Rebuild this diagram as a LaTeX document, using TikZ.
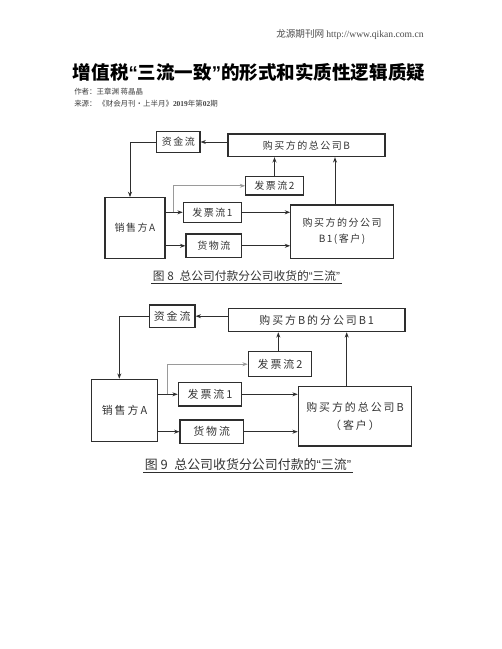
\documentclass[tikz,border=0pt]{standalone}
\usepackage{fontspec}
\setmainfont{Liberation Serif}
\newfontfamily\cjk{Noto Sans CJK SC}
\newfontfamily\lsans{Liberation Sans}
\newfontfamily\cjka[LetterSpace=15]{Noto Sans CJK SC}
\newfontfamily\cjkb[LetterSpace=18]{Noto Sans CJK SC}
\newcommand\oquo{{\lsans “}}
\newcommand\cquo{{\lsans ”}}
\usetikzlibrary{arrows.meta,calc}
\definecolor{lc}{HTML}{2E2E2E}
\definecolor{gc}{HTML}{9A9A9A}
\definecolor{tc}{HTML}{333333}
\begin{document}
\begin{tikzpicture}[x=0.75pt,y=-0.75pt,
  bx/.style 2 args={minimum width=#1*0.75pt, minimum height=#2*0.75pt},
  boxe/.style={draw=lc, line width=0.85pt, inner sep=1pt, text=tc, align=center},
  b8/.style={boxe, font=\cjka\fontsize{7.5}{10}\selectfont},
  b9/.style={boxe, font=\cjkb\fontsize{8.2}{12}\selectfont},
  arr/.style={draw=lc, line width=0.7pt, -{Stealth[length=4pt,width=3pt]}},
  garr/.style={draw=gc, line width=0.6pt, -{Stealth[length=4pt,width=3pt]}},
  capn/.style={inner sep=1pt, text=tc},
  txt/.style={inner sep=0pt, anchor=west}
]
\useasboundingbox (0,0) rectangle (502,649);
\fill[white] (0,0) rectangle (502,649);

% header
\node[txt, text=black!70] (hdr) at (276,34) {\cjk\fontsize{7.2}{9}\selectfont 龙源期刊网 \rmfamily http://www.qikan.com.cn};
\node[inner sep=0pt] (title) at (249,72) {\cjk\bfseries\fontsize{13.9}{16}\selectfont 增值税{\bfseries\oquo}三流一致{\bfseries\cquo}的形式和实质性逻辑质疑};
\node[txt, text=black!75] (au) at (74,92) {\cjk\fontsize{5.6}{7}\selectfont 作者：王章渊 蒋晶晶};
\node[txt, text=black!75] (src) at (74,104) {\cjk\fontsize{5.6}{7}\selectfont 来源：\ 《财会月刊·上半月》{\rmfamily\bfseries 2019}年第{\rmfamily\bfseries 02}期};

% figure 8
\node[b8, bx={43.3}{21.7}] (zj8) at (178.3,142) {资金流};
\node[b8, bx={157}{22.7}] (zg8) at (306.5,145.3) {购买方的总公司B};
\node[b8, bx={57.6}{18.3}] (fp28) at (274.5,185.8) {发票流2};
\node[b8, bx={60}{60.6}] (xs8) at (135,228) {销售方A};
\node[b8, bx={58.4}{20}] (fp18) at (212.5,212.3) {发票流1};
\node[b8, bx={55.7}{23.7}] (hw8) at (213.8,245.8) {货物流};
\node[b8, bx={102.6}{53.3}] (fg8) at (342,231.7) {购买方的分公司\\[2pt]B1(客户)};

\draw[arr] (zg8.west |- zj8.east) -- (zj8.east);
\draw[arr] (zj8.west) -| ($(xs8.north)+(-5,0)$);
\draw[arr] (xs8.east |- fp18.west) -- (fp18.west);
\coordinate (g8) at ($(xs8.east |- fp18.west)+(7.7,0)$);
\draw[garr] (g8) |- (fp28.west);
\draw[arr] (fp28.north) -- (fp28.north |- zg8.south);
\draw[arr] (fp18.east) -- (fp18.east -| fg8.west);
\draw[arr] (xs8.east |- hw8.west) -- (hw8.west);
\draw[arr] (hw8.east) -- (hw8.east -| fg8.west);
\coordinate (t8) at ($(fg8.north)+(-7,0)$);
\draw[arr] (t8) -- (t8 |- zg8.south);

\node[capn, font=\cjk\fontsize{8.8}{10}\selectfont] (c8) at (246.5,276) {图 8\enspace 总公司付款分公司收货的\oquo 三流\cquo};
\draw[lc, line width=0.6pt] (c8.south west) -- (c8.south east);

% figure 9
\node[b9, bx={45.7}{22.3}] (zj9) at (172.2,316.2) {资金流};
\node[b9, bx={176.7}{23.4}] (b19) at (316.7,320) {购买方B的分公司B1};
\node[b9, bx={63.4}{25}] (fp29) at (280,364.2) {发票流2};
\node[b9, bx={65.6}{62.4}] (xs9) at (124.5,410.5) {销售方A};
\node[b9, bx={63.4}{23.3}] (fp19) at (210,394.3) {发票流1};
\node[b9, bx={63.3}{23.3}] (hw9) at (211.7,431.7) {货物流};
\node[b9, bx={113.4}{59.3}] (zg9) at (355,416.3) {购买方的总公司B\\[2pt]（客户）};

\draw[arr] (b19.west |- zj9.east) -- (zj9.east);
\draw[arr] (zj9.west) -| ($(xs9.north)+(-5.2,0)$);
\draw[arr] (xs9.east |- fp19.west) -- (fp19.west);
\coordinate (g9) at ($(xs9.east |- fp19.west)+(10,0)$);
\draw[garr] (g9) |- (fp29.west);
\coordinate (u9) at ($(fp29.north)+(-1.7,0)$);
\draw[arr] (u9) -- (u9 |- b19.south);
\draw[arr] (fp19.east) -- (fp19.east -| zg9.west);
\draw[arr] (xs9.east |- hw9.west) -- (hw9.west);
\draw[arr] (hw9.east) -- (hw9.east -| zg9.west);
\coordinate (t9) at ($(zg9.north)+(-8.3,0)$);
\draw[arr] (t9) -- (t9 |- b19.south);

\node[capn, font=\cjk\fontsize{9.7}{11}\selectfont] (c9) at (248,465) {图 9\enspace 总公司收货分公司付款的\oquo 三流\cquo};
\draw[lc, line width=0.6pt] (c9.south west) -- (c9.south east);
\end{tikzpicture}
\end{document}
